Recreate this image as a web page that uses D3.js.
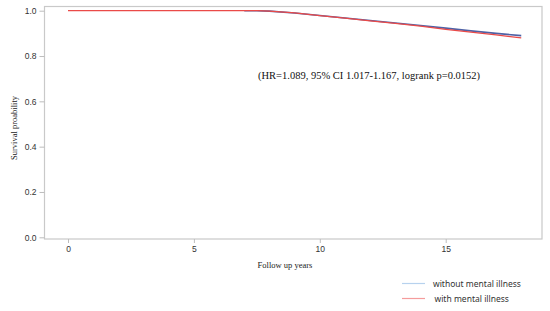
<!DOCTYPE html>
<html>
<head>
<meta charset="utf-8">
<script src="https://cdn.jsdelivr.net/npm/d3@7"></script>
<style>
body { margin: 0; background: #fff; }
svg { display: block; }
</style>
</head>
<body>
<svg class="chart" width="550" height="311"></svg>
<script>
// follow up years and survival estimates
var yearsBlue = [7.0, 7.5, 8, 9, 10, 11, 12, 13, 14, 15, 16, 17, 18];
var survBlue  = [1.0, 1.0, 0.998, 0.990, 0.979, 0.968, 0.957, 0.946, 0.935, 0.923, 0.911, 0.900, 0.890];
var yearsRed  = [0, 7.0, 7.5, 8, 9, 10, 11, 12, 13, 14, 15, 16, 17, 18];
var survRed   = [1.0, 1.0, 1.0, 0.998, 0.990, 0.978, 0.967, 0.955, 0.944, 0.932, 0.918, 0.905, 0.893, 0.880];
var xTicks = [0, 5, 10, 15];
var yTicks = [0, 0.2, 0.4, 0.6, 0.8, 1.0];
var legendLabels = ["without mental illness", "with mental illness"];

var svg = d3.select("svg.chart");

var x = d3.scaleLinear().domain([0, 15]).range([68, 445.7]);
var y = d3.scaleLinear().domain([0, 1]).range([237.3, 10.7]);

var frameL = 44, frameR = 541.5, frameT = 6, frameB = 238.5;

/* frame */
svg.append("rect")
    .attr("x", frameL + 0.5)
    .attr("y", frameT + 0.5)
    .attr("width", frameR - frameL)
    .attr("height", frameB - frameT)
    .attr("fill", "none")
    .attr("stroke", "#c9c9c9")
    .attr("stroke-width", 1.2);

/* axes */
var yAxis = d3.axisLeft(y).tickValues(yTicks).tickFormat(d3.format(".1f")).tickSize(5).tickPadding(3);
var gy = svg.append("g").attr("transform", "translate(" + (frameL + 0.5) + ",0)").call(yAxis);

var xAxis = d3.axisBottom(x).tickValues(xTicks).tickFormat(d3.format("d")).tickSize(4).tickPadding(3);
var gx = svg.append("g").attr("transform", "translate(0," + (frameB + 0.5) + ")").call(xAxis);

[gy, gx].forEach(function(g){
    g.select(".domain").remove();
    g.selectAll(".tick line").attr("stroke", "#bdbdbd");
    g.selectAll(".tick text")
        .attr("fill", "#333")
        .style("font-family", "Liberation Sans, Arial, sans-serif")
        .style("font-size", "8.5px");
});

/* axis titles */
svg.append("text")
    .attr("x", 285).attr("y", 268)
    .attr("text-anchor", "middle")
    .style("font-family", "Liberation Serif, Times New Roman, serif")
    .style("font-size", "8.5px")
    .attr("fill", "#222")
    .text("Follow up years");

svg.append("text")
    .attr("transform", "translate(17,128) rotate(-90)")
    .attr("text-anchor", "middle")
    .style("font-family", "Liberation Serif, Times New Roman, serif")
    .style("font-size", "8.5px")
    .attr("fill", "#222")
    .text("Survival proability");

/* curves */
var line = d3.line()
    .x(function(d){ return x(d[0]); })
    .y(function(d){ return y(d[1]); });

svg.append("path")
    .datum(d3.zip(yearsBlue, survBlue))
    .attr("d", line)
    .attr("fill", "none")
    .attr("stroke", "#4f62a6")
    .attr("stroke-width", 1.6);

svg.append("path")
    .datum(d3.zip(yearsRed, survRed))
    .attr("d", line)
    .attr("fill", "none")
    .attr("stroke", "#ea4a48")
    .attr("stroke-width", 1.3);

/* annotation */
svg.append("text")
    .attr("x", 258).attr("y", 79)
    .style("font-family", "Liberation Serif, Times New Roman, serif")
    .style("font-size", "10.5px")
    .attr("fill", "#111")
    .text("(HR=1.089, 95% CI 1.017-1.167, logrank p=0.0152)");

/* legend */
var legendColors = ["#b7d2ee", "#f59c9c"];
legendLabels.forEach(function(lab, i){
    var ly = 283.5 + i * 15;
    svg.append("line")
        .attr("x1", 402).attr("x2", 425)
        .attr("y1", ly).attr("y2", ly)
        .attr("stroke", legendColors[i])
        .attr("stroke-width", 1.2);
    svg.append("text")
        .attr("x", 433 + i * 1.5).attr("y", ly + 3)
        .style("font-family", "Noto Sans, sans-serif")
        .style("font-size", "8.5px")
        .attr("fill", "#333")
        .text(lab);
});
</script>
</body>
</html>
